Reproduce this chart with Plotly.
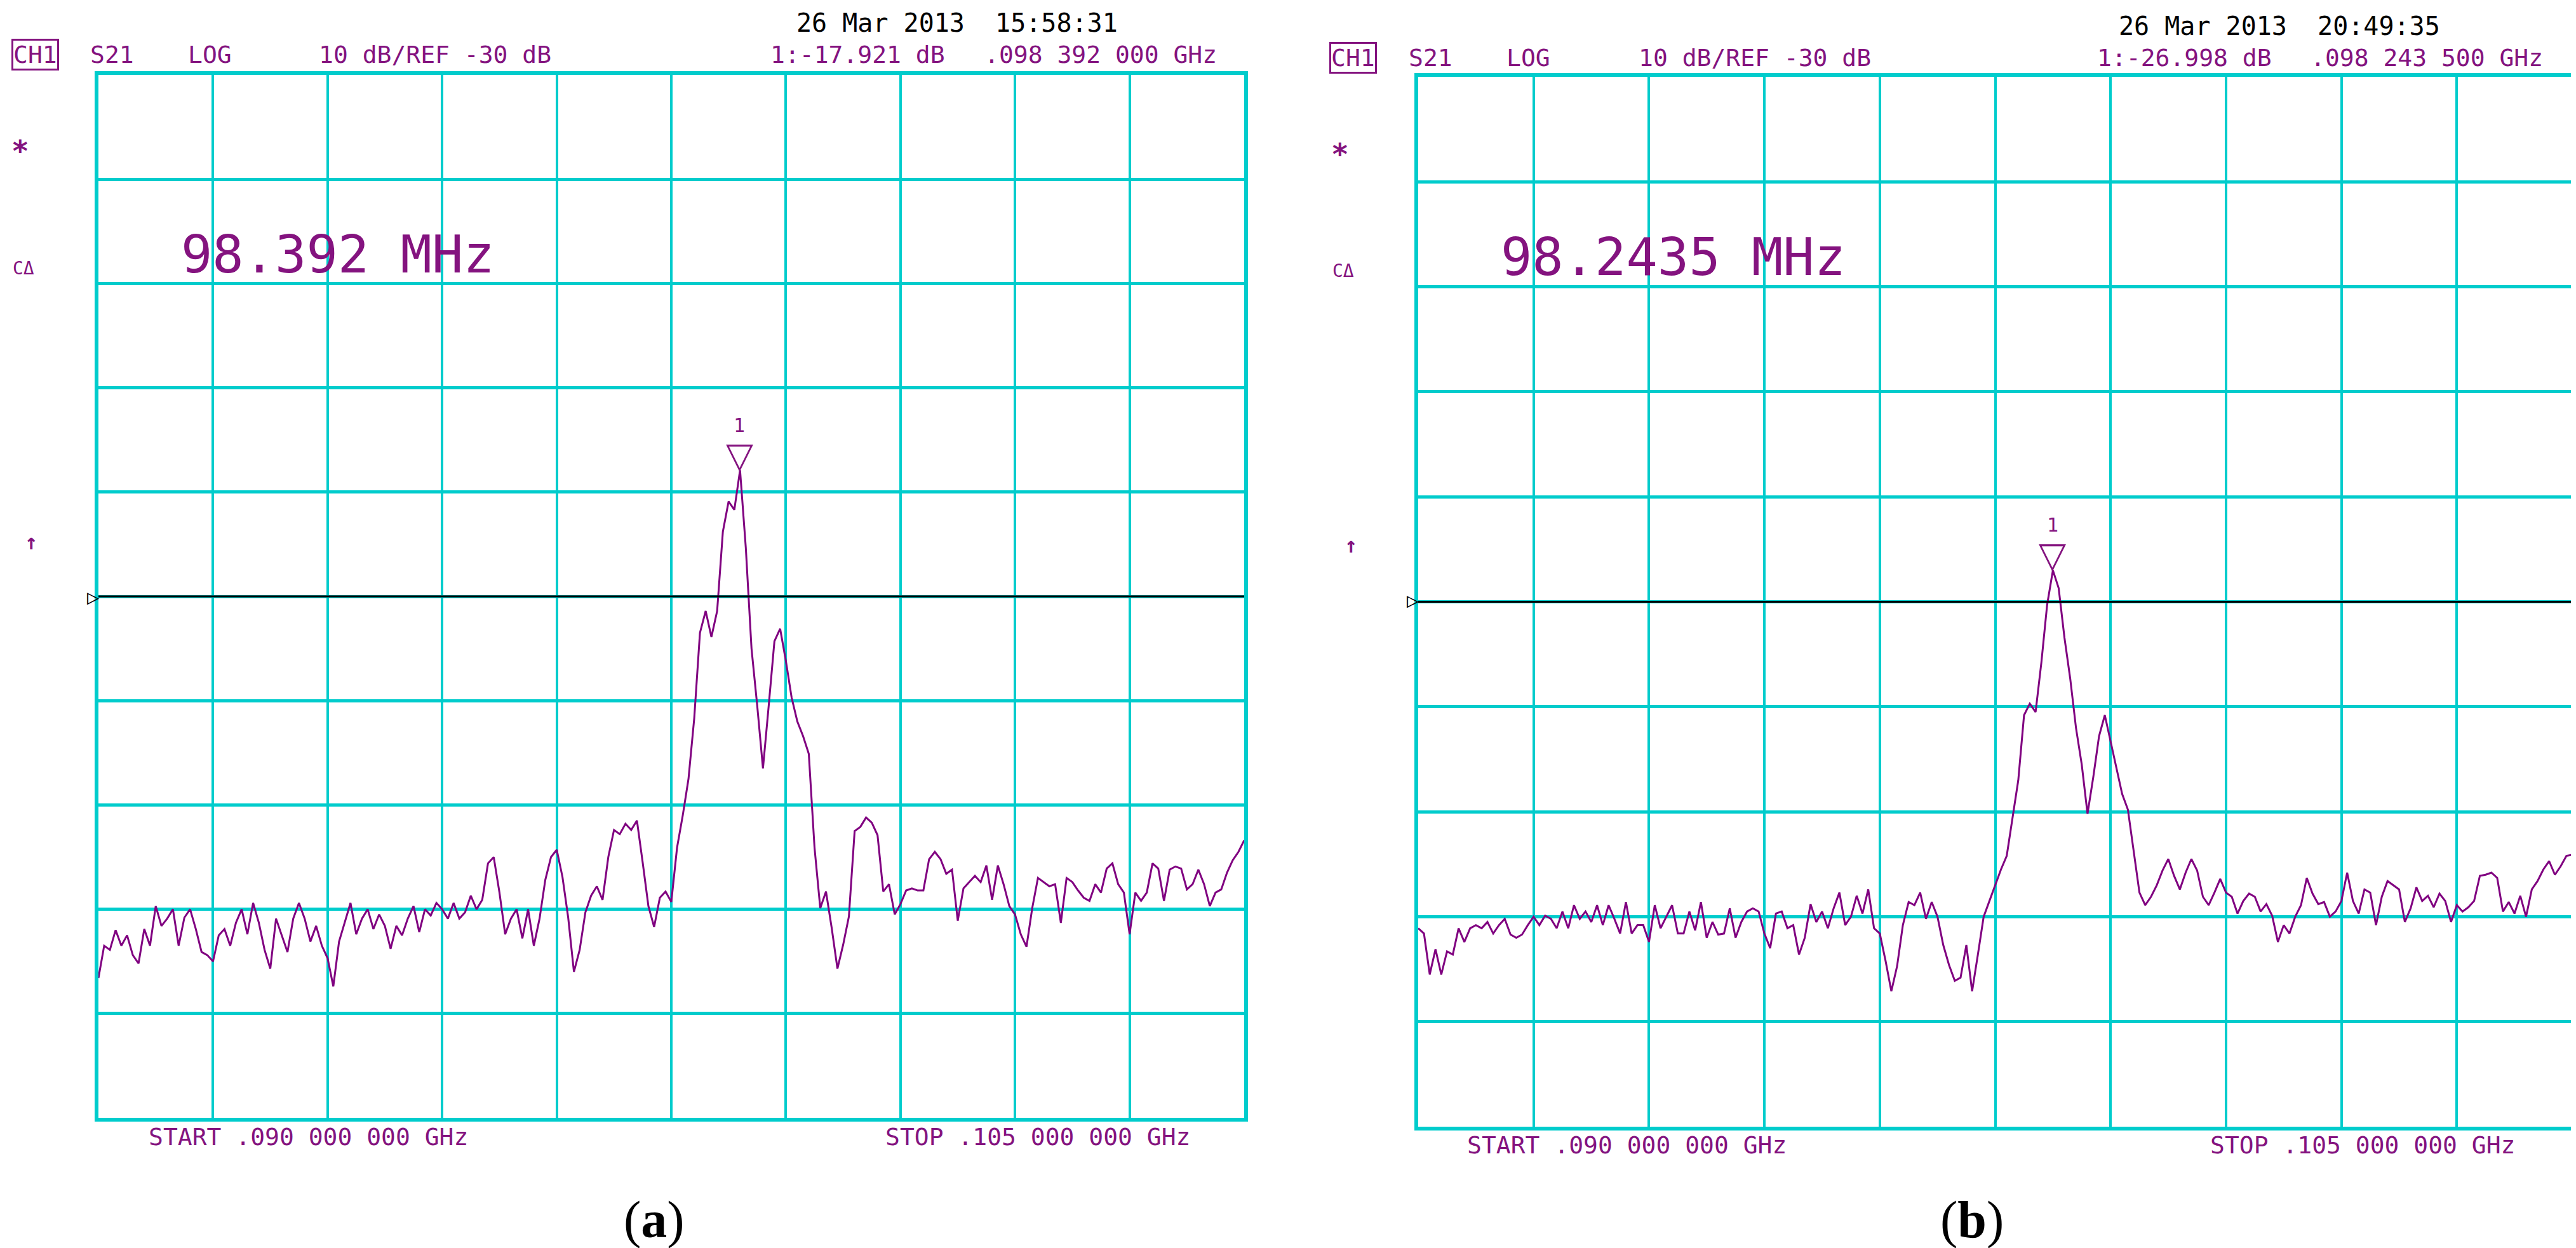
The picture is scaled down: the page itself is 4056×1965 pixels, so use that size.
import numpy as np
import plotly.graph_objects as go

# ---------------- data ----------------
START_MHZ = 90.0
STOP_MHZ = 105.0
REF_DB = -30.0
DB_PER_DIV = 10.0

# (a) S21 trace, dB, 201 sweep points from START to STOP
levels_a = [
    -66.6, -63.5, -63.9, -62.0, -63.5, -62.5, -64.4, -65.2, -61.9, -63.5,
    -59.7, -61.6, -60.9, -60.0, -63.5, -60.8, -60.0, -61.9, -64.1, -64.4,
    -65.0, -62.5, -61.9, -63.5, -61.3, -60.0, -62.4, -59.4, -61.3, -63.9,
    -65.7, -60.9, -62.5, -64.1, -60.9, -59.4, -60.9, -63.1, -61.6, -63.5,
    -64.7, -67.4, -63.1, -61.3, -59.4, -62.4, -60.9, -60.0, -61.9, -60.5,
    -61.6, -63.8, -61.6, -62.5, -60.9, -59.7, -62.2, -60.0, -60.6, -59.4,
    -60.0, -60.9, -59.4, -60.9, -60.3, -58.7, -60.0, -59.1, -55.6, -55.0,
    -58.4, -62.4, -60.9, -60.0, -62.8, -60.0, -63.5, -60.9, -57.2, -55.0,
    -54.3, -56.9, -60.8, -66.0, -63.9, -60.3, -58.7, -57.8, -59.1, -55.0,
    -52.4, -52.8, -51.8, -52.4, -51.5, -55.5, -59.7, -61.7, -58.9, -58.3,
    -59.3, -54.1, -51.0, -47.5, -41.7, -33.5, -31.4, -33.9, -31.4, -23.8,
    -20.9, -21.7, -17.9, -25.3, -35.0, -40.5, -46.5, -40.5, -34.3, -33.1,
    -36.2, -39.7, -42.0, -43.4, -45.1, -54.1, -59.9, -58.3, -61.8, -65.7,
    -63.4, -60.7, -52.5, -52.1, -51.2, -51.7, -52.9, -58.3, -57.6, -60.5,
    -59.5, -58.2, -58.0, -58.2, -58.2, -55.2, -54.5, -55.2, -56.6, -56.2,
    -61.1, -58.0, -57.4, -56.8, -57.4, -55.8, -59.1, -55.8, -57.6, -59.7,
    -60.5, -62.4, -63.6, -59.9, -57.0, -57.4, -57.8, -57.6, -61.3, -57.0,
    -57.4, -58.2, -58.9, -59.2, -57.6, -58.4, -56.1, -55.6, -57.6, -58.4,
    -62.4, -58.4, -59.2, -58.4, -55.6, -56.1, -59.2, -56.2, -55.9, -56.1,
    -58.1, -57.6, -56.2, -57.6, -59.7, -58.4, -58.1, -56.5, -55.3, -54.5,
    -53.4,
]

# (b) S21 trace, dB, 201 sweep points from START to STOP
levels_b = [
    -61.1, -61.6, -65.5, -63.1, -65.5, -63.3, -63.6, -61.1, -62.4, -61.1,
    -60.8, -61.1, -60.5, -61.6, -60.8, -60.2, -61.7, -62.0, -61.7, -60.8,
    -60.0, -60.8, -59.9, -60.2, -61.1, -59.5, -61.1, -58.9, -60.2, -59.5,
    -60.5, -58.9, -60.8, -58.9, -60.2, -61.6, -58.6, -61.6, -60.8, -60.8,
    -62.4, -58.9, -61.1, -60.0, -58.9, -61.6, -61.6, -59.5, -61.3, -58.6,
    -62.0, -60.5, -61.7, -61.6, -59.2, -62.0, -60.5, -59.5, -59.2, -59.5,
    -61.6, -63.0, -59.7, -59.5, -61.1, -60.8, -63.6, -62.0, -58.8, -60.5,
    -59.5, -61.1, -59.2, -57.7, -60.8, -60.0, -58.0, -59.7, -57.4, -61.1,
    -61.6, -64.2, -67.1, -64.7, -60.8, -58.6, -58.9, -57.7, -60.2, -58.6,
    -60.0, -62.7, -64.6, -66.1, -65.8, -62.7, -67.1, -63.6, -60.0, -58.5,
    -57.0, -55.5, -54.2, -50.6, -47.0, -40.8, -39.7, -40.5, -35.8, -30.3,
    -27.0, -28.7, -33.4, -37.3, -42.0, -45.5, -50.2, -46.7, -42.8, -40.8,
    -43.3, -45.9, -48.3, -49.8, -53.8, -57.7, -58.9, -58.1, -57.0, -55.6,
    -54.5, -56.1, -57.4, -55.8, -54.5, -55.6, -58.1, -58.9, -57.7, -56.4,
    -57.7, -58.1, -59.7, -58.5, -57.8, -58.1, -59.5, -58.8, -59.9, -62.4,
    -60.8, -61.6, -60.0, -58.9, -56.3, -57.8, -58.8, -58.6, -60.0, -59.5,
    -58.5, -55.8, -58.5, -59.7, -57.4, -57.7, -60.8, -58.1, -56.6, -57.0,
    -57.4, -60.5, -59.2, -57.2, -58.5, -58.0, -59.1, -57.8, -58.5, -60.5,
    -58.9, -59.5, -59.1, -58.5, -56.1, -56.0, -55.8, -56.3, -59.5, -58.6,
    -59.7, -58.0, -60.0, -57.4, -56.6, -55.5, -54.7, -56.0, -55.2, -54.2,
    -54.1,
]

marker_a_mhz, marker_a_db = 98.392, -17.921
marker_b_mhz, marker_b_db = 98.2435, -26.998

header_a = ["CH1", "S21", "LOG", "10 dB/REF -30 dB", "1:-17.921 dB", ".098 392 000 GHz"]
header_b = ["CH1", "S21", "LOG", "10 dB/REF -30 dB", "1:-26.998 dB", ".098 243 500 GHz"]
date_a = "26 Mar 2013  15:58:31"
date_b = "26 Mar 2013  20:49:35"
big_a = "98.392 MHz"
big_b = "98.2435 MHz"
start_label = "START .090 000 000 GHz"
stop_label = "STOP .105 000 000 GHz"

# ---------------- style ----------------
W, H = 4056, 1965
CYAN = "#00CCCC"
PURPLE = "#800080"
TXT = "#84137F"
MONO = "DejaVu Sans Mono"


def px(x):
    return x / W


def py(y):
    return 1 - y / H


fig = go.Figure()

fa = np.linspace(START_MHZ, STOP_MHZ, len(levels_a))
fb = np.linspace(START_MHZ, STOP_MHZ, len(levels_b))
fig.add_trace(go.Scatter(x=fa, y=levels_a, mode="lines", xaxis="x", yaxis="y",
                         line=dict(color=PURPLE, width=3), hoverinfo="skip"))
fig.add_trace(go.Scatter(x=fb, y=levels_b, mode="lines", xaxis="x2", yaxis="y2",
                         line=dict(color=PURPLE, width=3), hoverinfo="skip"))

yr = [REF_DB - 5 * DB_PER_DIV, REF_DB + 5 * DB_PER_DIV]
step = (STOP_MHZ - START_MHZ) / 10


def xax(dom, anchor):
    return dict(domain=dom, anchor=anchor, range=[START_MHZ, STOP_MHZ], tick0=START_MHZ,
                dtick=step, showgrid=True, gridcolor=CYAN, gridwidth=4, showline=True,
                linecolor=CYAN, linewidth=6, mirror=True, showticklabels=False, ticks="",
                zeroline=False, fixedrange=True)


def yax(dom, anchor):
    return dict(domain=dom, anchor=anchor, range=yr, tick0=REF_DB, dtick=DB_PER_DIV,
                showgrid=True, gridcolor=CYAN, gridwidth=5, showline=True,
                linecolor=CYAN, linewidth=6, mirror=True, showticklabels=False, ticks="",
                zeroline=False, fixedrange=True)


fig.update_layout(
    width=W, height=H, autosize=False,
    margin=dict(l=0, r=0, t=0, b=0),
    paper_bgcolor="white", plot_bgcolor="white", showlegend=False,
    xaxis=xax([px(147), px(1951)], "y"),
    yaxis=yax([py(1752), py(110)], "x"),
    xaxis2=xax([px(2225), px(4042)], "y2"),
    yaxis2=yax([py(1766), py(113)], "x2"),
)

# reference lines (REF level) drawn over the centre grid line
for xr, yrf in (("x", "y"), ("x2", "y2")):
    fig.add_shape(type="line", xref=xr, yref=yrf, x0=START_MHZ, x1=STOP_MHZ,
                  y0=REF_DB, y1=REF_DB, line=dict(color="black", width=3), layer="above")

ann = []


def t(text, x, y, size, color=TXT, xanchor="left", font=MONO, **kw):
    ann.append(dict(text=text, x=px(x), y=py(y), xref="paper", yref="paper",
                    xanchor=xanchor, yanchor="middle", showarrow=False,
                    font=dict(family=font, size=size, color=color), **kw))


def panel_text(dx, dy, header, date, big, hx):
    hy = 78 + dy
    ann.append(dict(text=header[0], x=px(hx[0]), y=py(hy), xref="paper", yref="paper",
                    xanchor="left", yanchor="middle", showarrow=False,
                    font=dict(family=MONO, size=38, color=TXT),
                    bordercolor=TXT, borderwidth=3, borderpad=0))
    for s, x in zip(header[1:], hx[1:]):
        t(s, x, hy, 38)
    t(date, hx[6], 28 + dy, 40, color="black")
    t("<b>*</b>", 24 + dx, 230 + dy, 46, xanchor="center")
    t("C\u0394", 10 + dx, 414 + dy, 28)
    t(big, 275 + dx, 392 + dy, 82)
    t("<b>\u2191</b>", 41 + dx, 845 + dy, 34, xanchor="center")
    t("<b>\u25b7</b>", 147 + dx + 4, 932 + dy, 32, color="black", xanchor="right")


panel_text(0, 0, header_a, date_a, big_a, [10, 132, 286, 492, 1203, 1540, 1244])
panel_text(2078, 5, header_b, date_b, big_b, [2085, 2208, 2362, 2570, 3292, 3628, 3326])

t(start_label, 224, 1782, 38)
t(stop_label, 1384, 1782, 38)
t(start_label, 2300, 1795, 38)
t(stop_label, 3470, 1795, 38)
t("(<b>a</b>)", 1022, 1912, 82, color="black", xanchor="center", font="Liberation Serif")
t("(<b>b</b>)", 3097, 1912, 82, color="black", xanchor="center", font="Liberation Serif")

# peak markers
for xr, yrf, mx, my in (("x", "y", marker_a_mhz, marker_a_db), ("x2", "y2", marker_b_mhz, marker_b_db)):
    ann.append(dict(text="\u25bd", x=mx, y=my, xref=xr, yref=yrf, xanchor="center",
                    yanchor="bottom", showarrow=False, yshift=-10,
                    font=dict(family="DejaVu Sans", size=56, color=TXT)))
    ann.append(dict(text="1", x=mx, y=my, xref=xr, yref=yrf, xanchor="center",
                    yanchor="bottom", showarrow=False, yshift=52,
                    font=dict(family=MONO, size=30, color=TXT)))

fig.update_layout(annotations=ann)
fig.write_html("out.html")
